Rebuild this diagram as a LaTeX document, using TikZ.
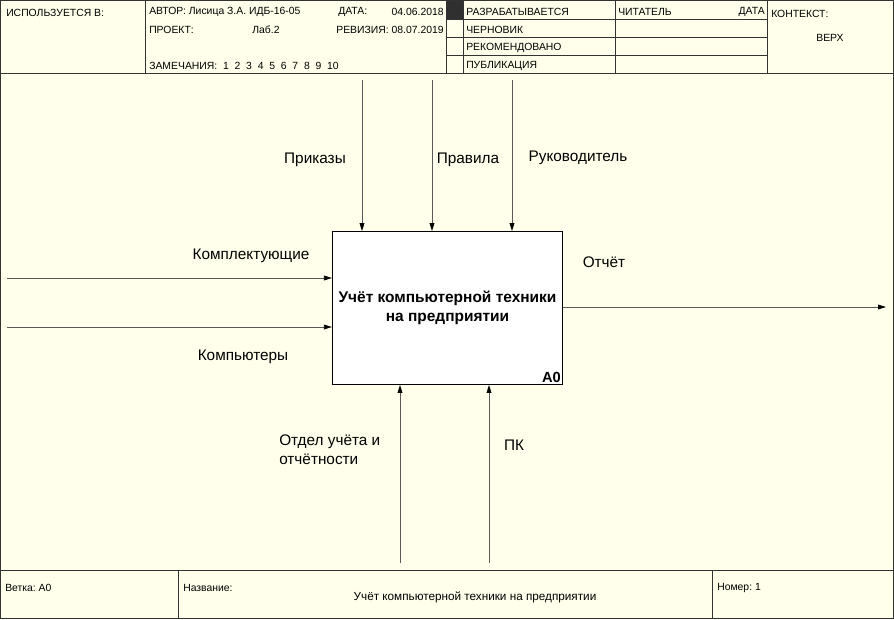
\documentclass[tikz,border=0pt]{standalone}
\usepackage{fontspec}
\setmainfont{Liberation Sans}
\usetikzlibrary{arrows.meta}

\definecolor{sheet}{RGB}{255,255,236}
\definecolor{darkcell}{RGB}{48,48,48}

\begin{document}
\frenchspacing
\begin{tikzpicture}[
    x=0.75pt, y=-0.75pt,
    rule/.style={draw=black!80, line width=0.75pt},
    cell/.style={font=\fontsize{7.8}{9.5}\selectfont, inner sep=0pt, anchor=west},
    func/.style={rectangle, draw, fill=white, line width=0.9pt, minimum width=172.5pt, minimum height=114.5pt, inner sep=1pt, align=center, font=\bfseries\fontsize{11.6}{14}\selectfont},
    arrow/.style={-{Triangle[length=6pt, width=3.6pt, black]}, draw=black!65, line width=0.6pt},
    label/.style={font=\fontsize{11.5}{14}\selectfont, inner sep=0pt, align=left}
]

\useasboundingbox (0,0) rectangle (894,619);
\fill[sheet] (0,0) rectangle (894,619);

% Frame
\draw[rule] (0.5,0.5) rectangle (893.5,618.5);
\draw[rule] (0,73) -- (894,73);
\draw[rule] (0,570) -- (894,570);
\foreach \x in {145,446,463,615,767}
    \draw[rule] (\x,0) -- (\x,73);
\foreach \y in {19,37,55}
    \draw[rule] (446,\y) -- (767,\y);
\fill[darkcell] (446,0.5) rectangle (463,19);
\foreach \x in {178,712}
    \draw[rule] (\x,570) -- (\x,618);

% Header
\node[cell] (used) at (6,13) {ИСПОЛЬЗУЕТСЯ В:};
\node[cell] (author) at (149,12) {АВТОР: Лисица З.А. ИДБ-16-05};
\node[cell] (project) at (149,30) {ПРОЕКТ:};
\node[cell, anchor=center] (lab) at (266,30) {Лаб.2};
\node[cell] (notes) at (149,66) {ЗАМЕЧАНИЯ:\ \ 1\ \ 2\ \ 3\ \ 4\ \ 5\ \ 6\ \ 7\ \ 8\ \ 9\ \ 10};
\node[cell] (date) at (338,12) {ДАТА:};
\node[cell, anchor=east] (dateval) at (444,12) {04.06.2018};
\node[cell, anchor=east] (rev) at (444,30) {РЕВИЗИЯ: 08.07.2019};
\node[cell] (working) at (466,12) {РАЗРАБАТЫВАЕТСЯ};
\node[cell] (draft) at (466,30) {ЧЕРНОВИК};
\node[cell] (recom) at (466,48) {РЕКОМЕНДОВАНО};
\node[cell] (publ) at (466,66) {ПУБЛИКАЦИЯ};
\node[cell] (reader) at (618,12) {ЧИТАТЕЛЬ};
\node[cell, anchor=east] (rdate) at (765,12) {ДАТА};
\node[cell] (context) at (771,14) {КОНТЕКСТ:};
\node[cell, anchor=center] (top) at (830,38) {ВЕРХ};

% Function block
\node[func] (box) at (447.5,308) {Учёт компьютерной техники\\на предприятии};
\node[anchor=south east, inner sep=1.5pt, font=\bfseries\fontsize{11}{13}\selectfont] (num) at (box.south east) {A0};

% Controls
\coordinate (c1) at (362,80);
\coordinate (c2) at (432,80);
\coordinate (c3) at (512,80);
\draw[arrow] (c1) -- (c1 |- box.north);
\draw[arrow] (c2) -- (c2 |- box.north);
\draw[arrow] (c3) -- (c3 |- box.north);

% Inputs
\coordinate (i1) at (7,278);
\coordinate (i2) at (7,327);
\draw[arrow] (i1) -- (i1 -| box.west);
\draw[arrow] (i2) -- (i2 -| box.west);

% Output
\coordinate (o1) at (886,307);
\draw[arrow] (o1 -| box.east) -- (o1);

% Mechanisms
\coordinate (m1) at (400,563);
\coordinate (m2) at (489,563);
\draw[arrow] (m1) -- (m1 |- box.south);
\draw[arrow] (m2) -- (m2 |- box.south);

% Labels
\node[label] (orders) at (315,160) {Приказы};
\node[label] (rules) at (468,160) {Правила};
\node[label] (head) at (578,158) {Руководитель};
\node[label] (parts) at (251,256) {Комплектующие};
\node[label] (pcs) at (243,357) {Компьютеры};
\node[label] (report) at (604,262) {Отчёт};
\node[label, anchor=west] (dept) at (279,450) {Отдел учёта и\\отчётности};
\node[label] (pk) at (514,445) {ПК};

% Footer
\node[cell] (branch) at (5,588) {Ветка: A0};
\node[cell] (name) at (183,588) {Название:};
\node[cell, anchor=center, font=\fontsize{8.8}{10}\selectfont] (title) at (475,597) {Учёт компьютерной техники на предприятии};
\node[cell] (page) at (717,588) {Номер: 1};

\end{tikzpicture}
\end{document}
